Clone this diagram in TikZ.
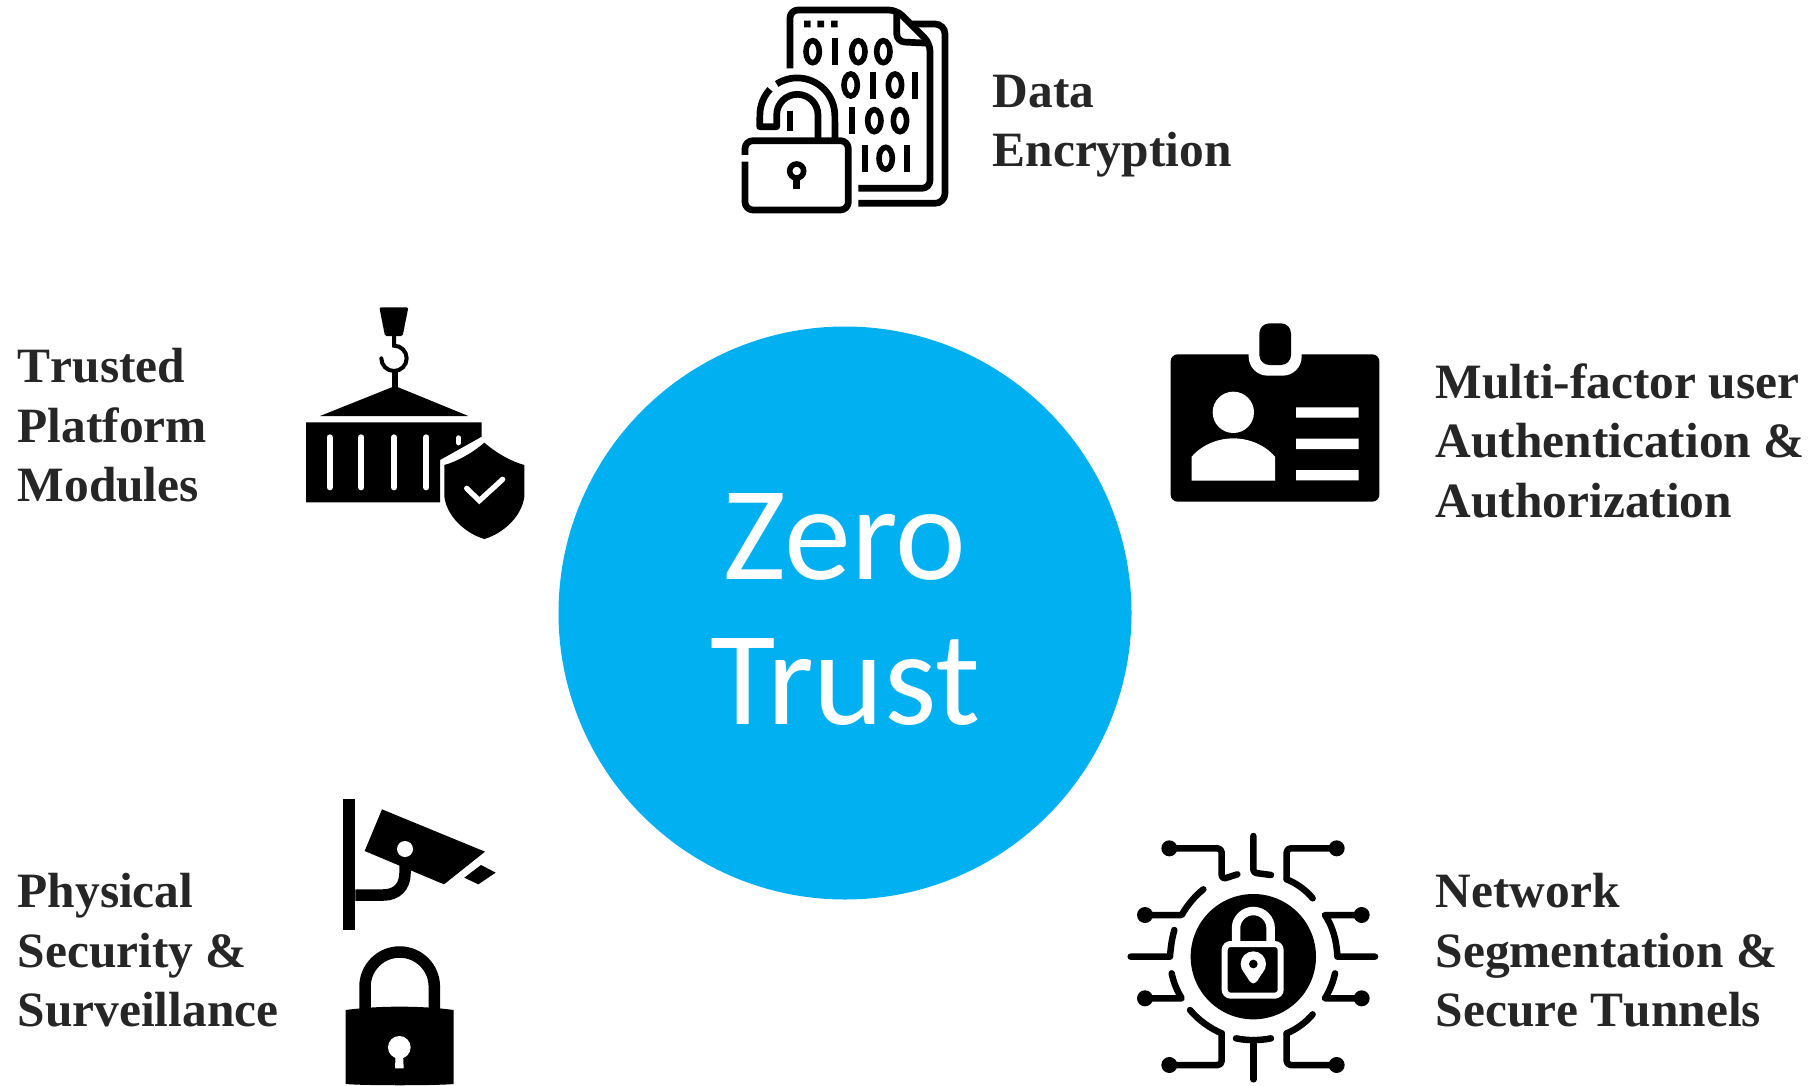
\documentclass[tikz,border=0pt]{standalone}
\usepackage{fontspec}
\setmainfont[Kerning=Off]{Liberation Serif}
\newfontfamily\centerfont{Carlito}
\definecolor{zblue}{HTML}{00B0F0}
\definecolor{ztext}{HTML}{262626}
\tikzset{
  labeltext/.style={inner sep=0pt,anchor=north west,align=left,text=ztext,font=\fontsize{49.4}{59.4}\selectfont\bfseries},
  icoline/.style={draw=black,line width=6.7pt,line join=round,fill=none},
  wire/.style={draw=black,line width=6.5pt,line cap=round,line join=round,fill=none},
  zdig/.style={draw=black,line width=5.6pt,fill=none},
  odig/.style={draw=black,line width=6.3pt,fill=none},
}
\newcommand\bzero[2]{\draw[zdig] (#1,#2) ellipse [x radius=20,y radius=33];}
\newcommand\bone[3]{\draw[odig] (#1,#2) -- (#1,#3);}
\newcommand\wdot[2]{\fill (#1,#2) circle [radius=24];}
\begin{document}
\begin{tikzpicture}[x=1pt,y=-1pt]
\useasboundingbox (0,0) rectangle (1820,1086);
\fill[white] (0,0) rectangle (1820,1086);
% central circle
\node[circle,fill=zblue,minimum size=573pt,inner sep=0pt] (centre) at (845,613) {};
\node[inner sep=0pt,align=center,text=white,font=\centerfont\fontsize{134}{145}\selectfont] (ctext) at (845,609) {Zero\\Trust};
% labels
\node[labeltext] (l1) at (992.5,74.5) {Data\\Encryption};
\node[labeltext] (l2) at (17.5,348.5) {Trusted\\Platform\\Modules};
\node[labeltext] (l3) at (1435.5,363.5) {Multi-factor user\\Authentication \&\\Authorization};
\node[labeltext] (l4) at (17.5,873.5) {Physical\\Security \&\\Surveillance};
\node[labeltext] (l5) at (1435.5,873.5) {Network\\Segmentation \&\\Secure Tunnels};
% icon 1: encrypted file
\begin{scope}[shift={(720,0)},x=0.33333pt,y=-0.33333pt]
\draw[icoline,rounded corners=8pt] (210,205) -- (210,30) -- (530,30) -- (630,130) -- (630,565) -- (415,565);
\draw[icoline,rounded corners=8pt] (530,30) -- (530,125) -- (630,130);
\draw[icoline,rounded corners=10pt] (575,72) -- (675,72) -- (675,610) -- (415,610);
\fill (252,62) rectangle (272,82) (292,62) rectangle (312,82) (333,62) rectangle (353,82);
\bzero{278}{155}\bone{345}{115}{195}\bzero{415}{155}\bzero{490}{155}
\bzero{392}{255}\bone{458}{215}{297}\bzero{525}{255}\bone{585}{215}{297}
\bone{397}{322}{403}\bzero{463}{362}\bzero{540}{362}
\bone{435}{435}{515}\bzero{497}{475}\bone{560}{435}{515}
\bone{210}{332}{392}
\draw[icoline] (150,268) arc [start angle=223,end angle=180,radius=113] -- (119,380) -- (170,380) -- (170,345) arc [start angle=180,end angle=360,radius=62] -- (294,415);
\draw[icoline] (170,252) arc [start angle=237,end angle=360,radius=113] -- (345,415);
\draw[icoline,rounded corners=8pt] (75,465) -- (75,422) -- (385,422) -- (385,630) -- (75,630) -- (75,485);
\draw[zdig] (230,513) circle [radius=21];
\fill (220,535) rectangle (240,568);
\end{scope}
% icon 2: container with shield
\begin{scope}[shift={(290,290)},x=0.33333pt,y=-0.33333pt]
\fill[rounded corners=1.5pt] (268,52) -- (355,52) -- (338,138) -- (285,138) -- cycle;
\draw[line width=4pt,line cap=round] (312,138) -- (312,167) arc [start angle=-90,end angle=180,radius=38];
\draw[line width=5.5pt] (315,245) -- (315,290);
\fill (315,288) -- (535,378) -- (90,378) -- cycle;
\fill (48,397) -- (575,397) -- (575,440) -- (450,510) -- (450,637) -- (48,637) -- cycle;
\foreach \sx in {119,214,312,409}{\draw[white,line width=6pt,line cap=round] (\sx,442) -- (\sx,592);}
\draw[white,line width=5.5pt,line cap=round] (506,444) -- (506,458);
\fill (583,458) .. controls (620,490) and (665,515) .. (703,525) -- (703,620) .. controls (695,680) and (640,730) .. (583,747) .. controls (526,730) and (471,680) .. (463,620) -- (463,525) .. controls (500,515) and (546,490) .. (583,458) -- cycle;
\draw[white,line width=5.3pt,line cap=round,line join=miter] (530,595) -- (568,632) -- (638,568);
\end{scope}
% icon 3: id card
\begin{scope}[shift={(1150,310)},x=0.33333pt,y=-0.33333pt]
\fill[rounded corners=7pt] (62,133) rectangle (688,575);
\fill[white] (296,120) -- (296,140) arc [start angle=180,end angle=90,radius=57] -- (398,197) arc [start angle=90,end angle=0,radius=57] -- (455,120) -- cycle;
\fill[rounded corners=10pt] (328,40) rectangle (423,165);
\fill[white] (250,307) circle [radius=62];
\fill[white] (125,512) -- (125,440) .. controls (160,400) and (210,385) .. (250,385) .. controls (290,385) and (340,400) .. (375,440) -- (375,512) -- cycle;
\fill[white] (438,292) rectangle (626,323) (438,386) rectangle (626,417) (438,480) rectangle (626,511);
\end{scope}
% icon 4: camera and padlock
\begin{scope}[shift={(320,780)},x=0.33333pt,y=-0.33333pt]
\fill (70,57) rectangle (106,450);
\draw[line width=11.5pt] (106,345) -- (190,345) .. controls (230,345) and (255,320) .. (255,280) -- (255,245);
\fill (186,88) -- (495,215) -- (372,313) -- (134,213) -- cycle;
\fill[white] (255,207) circle [radius=24];
\fill (483,255) -- (527,278) -- (475,313) -- (433,293) -- cycle;
\draw[line width=11.5pt] (135,692) -- (135,620) arc [start angle=180,end angle=360,radius=104] -- (343,692);
\fill (77,690) .. controls (130,683) and (185,680) .. (238,680) .. controls (295,680) and (350,683) .. (401,690) -- (401,912) .. controls (350,917) and (130,917) .. (77,912) -- cycle;
\fill[white] (238,802) circle [radius=34];
\fill[white] (227,820) -- (249,820) -- (251,865) -- (225,865) -- cycle;
\end{scope}
% icon 5: circuit lock
\begin{scope}[shift={(1110,820)},x=0.33333pt,y=-0.33333pt]
\fill (430,410) circle [radius=188];
\draw[white,line width=8.5pt] (378,372) -- (378,325) arc [start angle=180,end angle=360,radius=52] -- (482,372);
\draw[white,line width=6pt,rounded corners=6pt] (344,372) rectangle (512,527);
\fill[white] (430,432) circle [radius=38];
\fill[white,rounded corners=3pt] (396,448) -- (464,448) -- (437,490) -- (423,490) -- cycle;
\fill (430,432) circle [radius=13];
\draw[wire,rounded corners=4pt] (178,85) -- (335,85) -- (335,178) -- (382,163);
\draw[wire,rounded corners=3pt] (430,48) -- (430,158) -- (483,165);
\draw[wire,rounded corners=4pt] (680,85) -- (530,85) -- (530,178);
\draw[wire] (530,178) .. controls (560,190) and (590,212) .. (608,235);
\draw[wire] (755,285) -- (645,285) .. controls (668,320) and (680,360) .. (682,410) -- (795,410);
\draw[wire] (755,535) -- (645,535) .. controls (660,510) and (670,485) .. (675,460);
\draw[wire,rounded corners=4pt] (680,735) -- (530,735) -- (530,640);
\draw[wire] (530,640) .. controls (560,628) and (590,605) .. (608,583);
\draw[wire] (378,655) .. controls (410,662) and (450,662) .. (483,655);
\draw[wire] (430,660) -- (430,778);
\draw[wire,rounded corners=4pt] (178,735) -- (335,735) -- (335,640);
\draw[wire] (335,640) .. controls (300,625) and (265,600) .. (240,570);
\draw[wire] (105,535) -- (215,535) .. controls (200,510) and (190,485) .. (185,460);
\draw[wire] (62,410) -- (180,410) .. controls (182,380) and (186,355) .. (193,330);
\draw[wire] (105,285) -- (215,285) .. controls (232,255) and (255,228) .. (280,208);
\wdot{178}{85}\wdot{680}{85}\wdot{755}{285}\wdot{755}{535}\wdot{680}{735}\wdot{178}{735}\wdot{105}{535}\wdot{105}{285}
\end{scope}
\end{tikzpicture}
\end{document}
